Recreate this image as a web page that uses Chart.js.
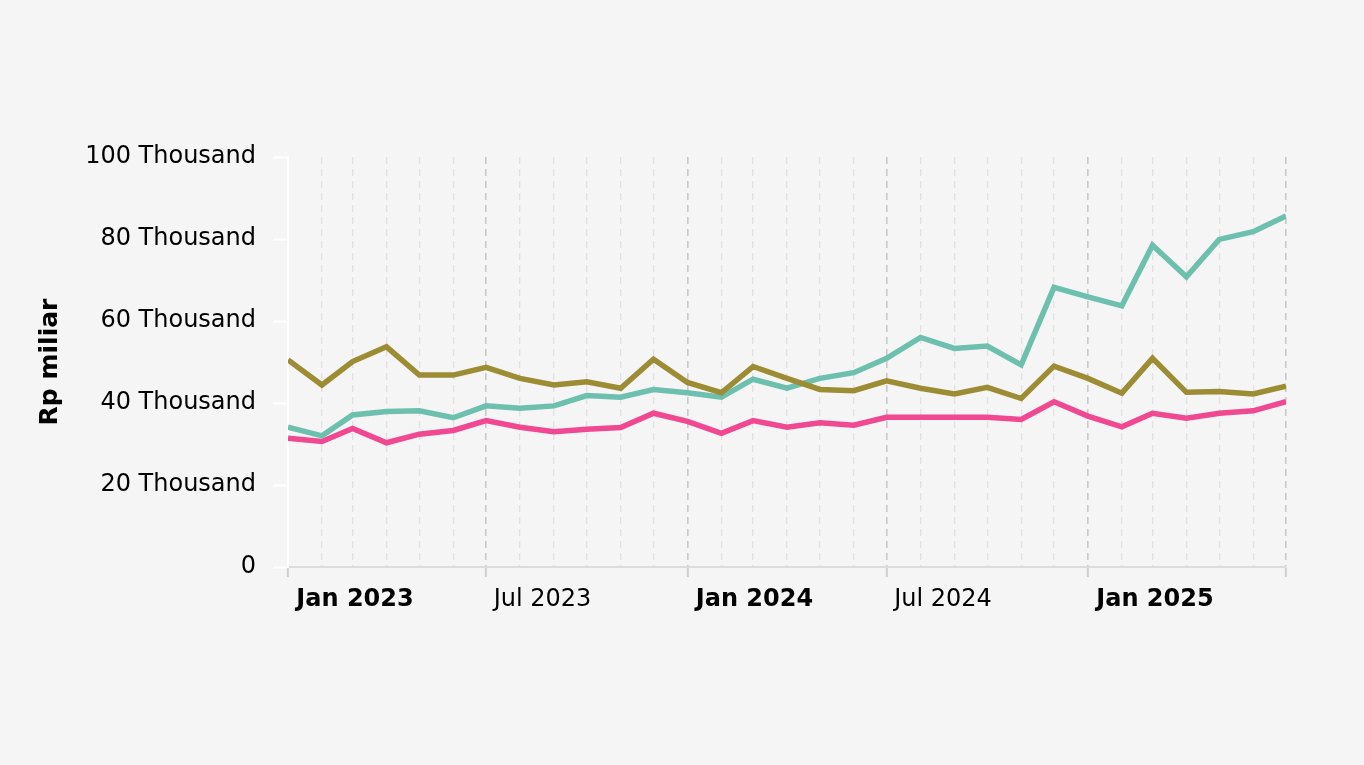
<!DOCTYPE html>
<html>
<head>
<meta charset="utf-8">
<script src="https://cdn.jsdelivr.net/npm/chart.js@4.4.4/dist/chart.umd.min.js"></script>
<style>
  html, body { margin: 0; padding: 0; background: #f5f5f5; }
  canvas { display: block; }
</style>
</head>
<body>
<canvas id="chart" width="1364" height="765"></canvas>
<script>
// Monthly series, Jan 2023 .. Jul 2025 (values in Rp miliar)
const months = [
  '2023-01', '2023-02', '2023-03', '2023-04', '2023-05', '2023-06',
  '2023-07', '2023-08', '2023-09', '2023-10', '2023-11', '2023-12',
  '2024-01', '2024-02', '2024-03', '2024-04', '2024-05', '2024-06',
  '2024-07', '2024-08', '2024-09', '2024-10', '2024-11', '2024-12',
  '2025-01', '2025-02', '2025-03', '2025-04', '2025-05', '2025-06',
  '2025-07',
];

const seriesOlive = [
  50500, 44400, 50100, 53700, 46800, 46800, 48700, 46000, 44400, 45200, 43600, 50700,
  45000, 42500, 48900, 46000, 43300, 43000, 45400, 43600, 42200, 43800, 41100, 49000,
  46000, 42400, 50900, 42600, 42800, 42200, 44100,
];
const seriesTeal = [
  34100, 32000, 37100, 37900, 38100, 36400, 39300, 38700, 39300, 41800, 41400, 43300,
  42500, 41400, 45800, 43600, 46000, 47400, 50900, 56000, 53300, 53900, 49300, 68200,
  65900, 63700, 78500, 70800, 79900, 81800, 85600,
];
const seriesPink = [
  31400, 30600, 33800, 30300, 32400, 33300, 35700, 34100, 33000, 33600, 34000, 37500,
  35500, 32600, 35700, 34100, 35200, 34600, 36500, 36500, 36500, 36500, 36000, 40300,
  36800, 34200, 37500, 36300, 37500, 38100, 40300,
];

const xTickMonths = ['2023-01', '2023-07', '2024-01', '2024-07', '2025-01'];
const xTickLabels = ['Jan 2023', 'Jul 2023', 'Jan 2024', 'Jul 2024', 'Jan 2025'];
const yTicks = [0, 20000, 40000, 60000, 80000, 100000];
const yTickLabels = ['0', '20 Thousand', '40 Thousand', '60 Thousand', '80 Thousand', '100 Thousand'];

const COLORS = { olive: '#9c8c34', teal: '#6cc0ad', pink: '#f04891' };
const FONT = 'DejaVu Sans';

// day offset from 1 Jan 2023, so month spacing follows the calendar
const origin = Date.UTC(2023, 0, 1);
function dayIndex(m) {
  const [y, mo] = m.split('-').map(Number);
  return (Date.UTC(y, mo - 1, 1) - origin) / 86400000;
}
const dayToMonth = new Map(months.map((m) => [dayIndex(m), m]));

function monthOf(tick) {
  return tick ? dayToMonth.get(tick.value) : undefined;
}
function isMajor(tick) {
  const m = monthOf(tick);
  return !!m && (m.endsWith('-01') || m.endsWith('-07'));
}
function isJan(tick) {
  const m = monthOf(tick);
  return !!m && m.endsWith('-01');
}

const toPoints = (values) => values.map((v, i) => ({ x: dayIndex(months[i]), y: v }));

const lineStyle = { borderWidth: 5.5, pointRadius: 0, pointHoverRadius: 0, tension: 0, fill: false };

new Chart(document.getElementById('chart'), {
  type: 'line',
  data: {
    datasets: [
      { label: 'Seri 1', data: toPoints(seriesOlive), borderColor: COLORS.olive, ...lineStyle },
      { label: 'Seri 2', data: toPoints(seriesTeal), borderColor: COLORS.teal, ...lineStyle },
      { label: 'Seri 3', data: toPoints(seriesPink), borderColor: COLORS.pink, ...lineStyle },
    ],
  },
  options: {
    responsive: false,
    animation: false,
    parsing: false,
    layout: { padding: { left: 0, right: 78, top: 157, bottom: 138 } },
    plugins: { legend: { display: false }, tooltip: { enabled: false } },
    scales: {
      x: {
        type: 'linear',
        min: 0,
        max: dayIndex(months[months.length - 1]),
        afterBuildTicks: (scale) => {
          scale.ticks = months.map((m) => ({ value: dayIndex(m) }));
        },
        afterFit: (scale) => { scale.height = 60; },
        grid: {
          color: (ctx) => (isMajor(ctx.tick) ? '#c9c9c9' : '#e2e2e2'),
          lineWidth: (ctx) => (isMajor(ctx.tick) ? 1.6 : 1.3),
          drawTicks: true,
          tickLength: 10,
          tickWidth: 2,
          tickColor: (ctx) => (isMajor(ctx.tick) ? '#cfcfcf' : 'rgba(0,0,0,0)'),
        },
        border: { display: true, color: '#dcdcdc', width: 2, dash: [7, 5] },
        ticks: {
          autoSkip: false,
          maxRotation: 0,
          minRotation: 0,
          align: 'start',
          padding: 8,
          color: '#000',
          font: (ctx) => ({ family: FONT, size: 24, weight: isJan(ctx.tick) ? 'bold' : 'normal' }),
          callback: (value) => {
            const i = xTickMonths.indexOf(dayToMonth.get(value));
            return i >= 0 ? ' ' + xTickLabels[i] : '';
          },
        },
      },
      y: {
        min: 0,
        max: 100000,
        afterBuildTicks: (scale) => {
          scale.ticks = yTicks.map((v) => ({ value: v }));
        },
        afterFit: (scale) => { scale.width = 288; },
        grid: {
          drawOnChartArea: false,
          drawTicks: true,
          tickLength: 15,
          tickWidth: 2,
          tickColor: '#ffffff',
        },
        border: { display: true, color: '#ffffff', width: 2 },
        ticks: {
          padding: 17,
          color: '#000',
          font: { family: FONT, size: 24 },
          callback: (value) => yTickLabels[yTicks.indexOf(value)],
        },
        title: {
          display: true,
          text: 'Rp miliar',
          color: '#000',
          font: { family: FONT, size: 25, weight: 'bold' },
          padding: { top: 35, bottom: 0 },
        },
      },
    },
  },
});
</script>
</body>
</html>
